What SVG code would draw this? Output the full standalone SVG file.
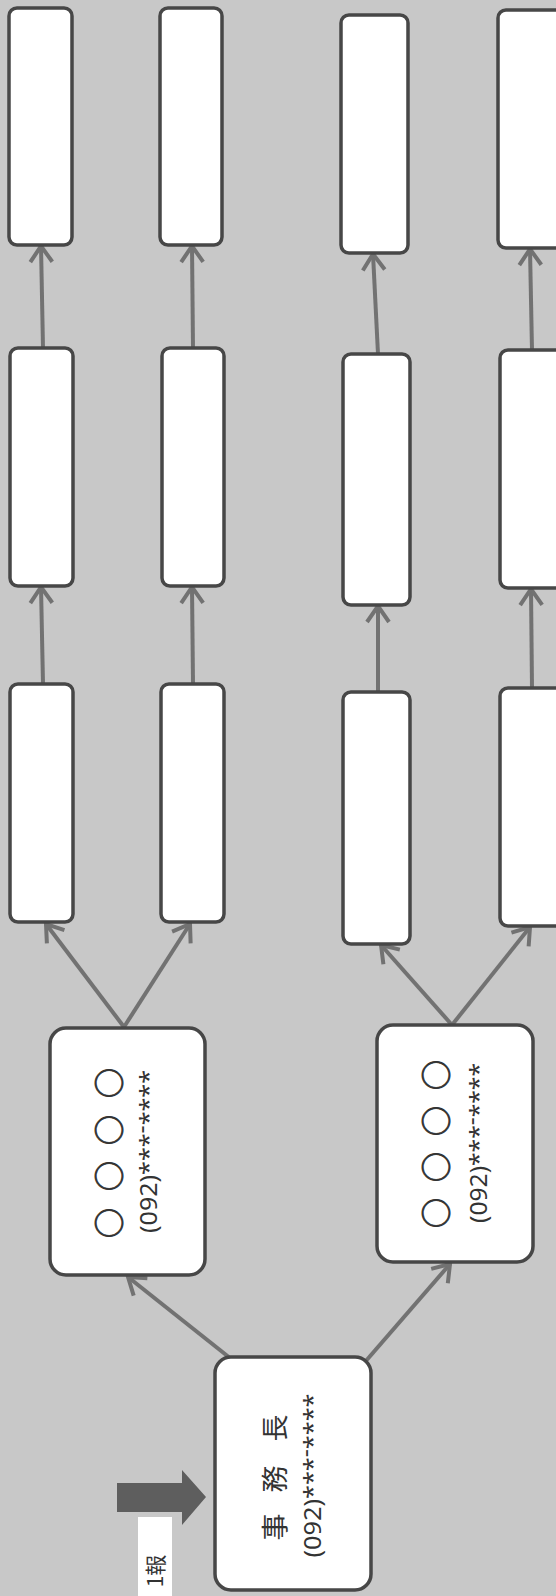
<svg xmlns="http://www.w3.org/2000/svg" width="556" height="1596" viewBox="0 0 556 1596">
  <style>
    .box { fill: #ffffff; stroke: #474747; stroke-width: 3.5; }
    .link { fill: none; stroke: #727272; stroke-width: 4; marker-end: url(#head); }
    .jp { font-family: "Noto Sans CJK JP", "Noto Sans", sans-serif; fill: #333333; }
    .mark { font-family: "Noto Sans CJK JP", sans-serif; fill: #333333; stroke: #333333; stroke-width: 0.9; }
    .tel { font-family: "Noto Sans", "Liberation Sans", sans-serif; fill: #333333; }
  </style>
  <defs>
    <marker id="head" markerUnits="userSpaceOnUse" markerWidth="34" markerHeight="34" viewBox="-22 -17 34 34" refX="0" refY="0" orient="auto">
      <path d="M-16,-11 L0,0 L-16,11" fill="none" stroke="#727272" stroke-width="4" stroke-linejoin="miter"/>
    </marker>
  </defs>

  <rect width="556" height="1596" fill="#c8c8c8"/>

  <!-- connectors -->
  <g id="connectors">
    <line class="link" x1="230" y1="1358" x2="128" y2="1277"/>
    <line class="link" x1="365" y1="1362" x2="450" y2="1264"/>
    <line class="link" x1="124" y1="1027" x2="46" y2="924"/>
    <line class="link" x1="124" y1="1027" x2="190" y2="924"/>
    <line class="link" x1="452" y1="1025" x2="381" y2="945"/>
    <line class="link" x1="452" y1="1025" x2="530" y2="927"/>
    <line class="link" x1="43" y1="684" x2="41" y2="587"/>
    <line class="link" x1="43" y1="348" x2="41" y2="246"/>
    <line class="link" x1="193" y1="684" x2="192" y2="587"/>
    <line class="link" x1="193" y1="348" x2="192" y2="246"/>
    <line class="link" x1="378" y1="692" x2="378" y2="606"/>
    <line class="link" x1="378" y1="354" x2="373" y2="254"/>
    <line class="link" x1="532" y1="688" x2="531" y2="589"/>
    <line class="link" x1="532" y1="350" x2="530" y2="249"/>
  </g>

  <!-- incoming first report -->
  <g id="first-report">
    <path d="M117,1483 H182 V1470 L206,1497 L182,1525 V1512 H117 Z" fill="#5e5e5e"/>
    <rect x="138" y="1517" width="34" height="79" fill="#ffffff"/>
    <text class="jp" font-size="21" text-anchor="middle" transform="translate(163,1571) rotate(-90)">1報</text>
  </g>

  <!-- head office -->
  <g id="node-chief">
    <rect class="box" x="215" y="1357" width="156" height="233" rx="16"/>
    <text class="jp" font-size="27" text-anchor="middle" dominant-baseline="central" transform="translate(273,1477) rotate(-90)" x="-50 -2 49" y="0 0 0">事務長</text>
    <text class="tel" font-size="24" text-anchor="middle" transform="translate(321,1475.5) rotate(-90)" textLength="164" lengthAdjust="spacingAndGlyphs">(092)***<tspan dy="-8">-</tspan><tspan dy="8">****</tspan></text>
  </g>

  <g id="node-a">
    <rect class="box" x="50" y="1028" width="155" height="247" rx="16"/>
    <text class="mark" font-size="30" text-anchor="middle" dominant-baseline="central" transform="translate(107,1153) rotate(-90)" x="-70 -23 23 70" y="0 0 0 0">○○○○</text>
    <text class="tel" font-size="24" text-anchor="middle" transform="translate(157,1151.5) rotate(-90)" textLength="163" lengthAdjust="spacingAndGlyphs">(092)***<tspan dy="-8">-</tspan><tspan dy="8">****</tspan></text>
  </g>

  <g id="node-b">
    <rect class="box" x="377" y="1025" width="156" height="237" rx="16"/>
    <text class="mark" font-size="30" text-anchor="middle" dominant-baseline="central" transform="translate(434,1144) rotate(-90)" x="-69 -23 23 69" y="0 0 0 0">○○○○</text>
    <text class="tel" font-size="24" text-anchor="middle" transform="translate(487,1143) rotate(-90)" textLength="160" lengthAdjust="spacingAndGlyphs">(092)***<tspan dy="-8">-</tspan><tspan dy="8">****</tspan></text>
  </g>

  <!-- relay boxes, column 1 -->
  <g id="c1-r1"><rect class="box" x="9" y="8" width="63" height="237" rx="8"/></g>
  <g id="c1-r2"><rect class="box" x="10" y="348" width="63" height="238" rx="8"/></g>
  <g id="c1-r3"><rect class="box" x="10" y="684" width="63" height="238" rx="8"/></g>

  <!-- column 2 -->
  <g id="c2-r1"><rect class="box" x="160" y="8" width="62" height="237" rx="8"/></g>
  <g id="c2-r2"><rect class="box" x="162" y="348" width="62" height="238" rx="8"/></g>
  <g id="c2-r3"><rect class="box" x="161" y="684" width="63" height="238" rx="8"/></g>

  <!-- column 3 -->
  <g id="c3-r1"><rect class="box" x="341" y="15" width="67" height="238" rx="8"/></g>
  <g id="c3-r2"><rect class="box" x="343" y="354" width="67" height="251" rx="8"/></g>
  <g id="c3-r3"><rect class="box" x="343" y="692" width="67" height="252" rx="8"/></g>

  <!-- column 4 -->
  <g id="c4-r1"><rect class="box" x="498" y="10" width="66" height="238" rx="8"/></g>
  <g id="c4-r2"><rect class="box" x="500" y="350" width="66" height="238" rx="8"/></g>
  <g id="c4-r3"><rect class="box" x="500" y="688" width="66" height="238" rx="8"/></g>
</svg>
